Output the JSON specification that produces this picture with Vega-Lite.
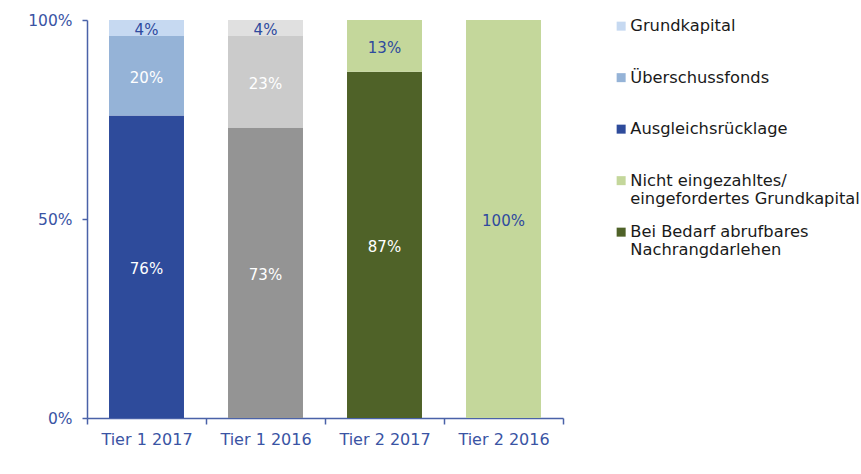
{
  "$schema": "https://vega.github.io/schema/vega-lite/v6.json",
  "width": 476,
  "height": 398,
  "autosize": {"type": "none"},
  "padding": {"left": 87, "top": 20, "right": 298, "bottom": 56},
  "background": "white",
  "config": {"view": {"stroke": null}, "font": "DejaVu Sans"},
  "data": {
    "values": [
      {"tier": "Tier 1 2017", "segment": "Ausgleichsrücklage", "rank": 1, "value": 0.76},
      {"tier": "Tier 1 2017", "segment": "Überschussfonds", "rank": 2, "value": 0.20},
      {"tier": "Tier 1 2017", "segment": "Grundkapital", "rank": 3, "value": 0.04},
      {"tier": "Tier 1 2016", "segment": "Ausgleichsrücklage 2016", "rank": 1, "value": 0.73},
      {"tier": "Tier 1 2016", "segment": "Überschussfonds 2016", "rank": 2, "value": 0.23},
      {"tier": "Tier 1 2016", "segment": "Grundkapital 2016", "rank": 3, "value": 0.04},
      {"tier": "Tier 2 2017", "segment": "Bei Bedarf abrufbares Nachrangdarlehen", "rank": 1, "value": 0.87},
      {"tier": "Tier 2 2017", "segment": "Nicht eingezahltes/ eingefordertes Grundkapital", "rank": 2, "value": 0.13},
      {"tier": "Tier 2 2016", "segment": "Nicht eingezahltes/ eingefordertes Grundkapital", "rank": 1, "value": 1.0}
    ]
  },
  "encoding": {
    "x": {
      "field": "tier",
      "type": "nominal",
      "sort": null,
      "scale": {"paddingInner": 0, "paddingOuter": 0},
      "axis": {
        "title": null,
        "tickBand": "extent",
        "labelAngle": 0,
        "domainColor": "#4a62a8",
        "domainWidth": 1.5,
        "tickColor": "#4a62a8",
        "tickWidth": 1.5,
        "tickSize": 6,
        "labelColor": "#3a54a4",
        "labelFontSize": 16,
        "labelPadding": 7
      }
    }
  },
  "layer": [
    {
      "mark": {"type": "bar", "width": {"band": 0.63}},
      "encoding": {
        "y": {
          "field": "value",
          "type": "quantitative",
          "stack": "zero",
          "scale": {"domain": [0, 1], "nice": false},
          "axis": {
            "title": null,
            "values": [0, 0.5, 1],
            "format": ".0%",
            "grid": false,
            "domainColor": "#4a62a8",
            "domainWidth": 1.5,
            "tickColor": "#4a62a8",
            "tickWidth": 1.5,
            "tickSize": 5,
            "labelColor": "#3a54a4",
            "labelFontSize": 15.5,
            "labelPadding": 10
          }
        },
        "color": {
          "field": "segment",
          "type": "nominal",
          "scale": {
            "domain": [
              "Grundkapital",
              "Überschussfonds",
              "Ausgleichsrücklage",
              "Nicht eingezahltes/ eingefordertes Grundkapital",
              "Bei Bedarf abrufbares Nachrangdarlehen",
              "Grundkapital 2016",
              "Überschussfonds 2016",
              "Ausgleichsrücklage 2016"
            ],
            "range": ["#c6d9f1", "#95b3d7", "#2e4b9b", "#c4d79b", "#4f6228", "#e0e0e0", "#cbcbcb", "#949494"]
          },
          "legend": {
            "orient": "none",
            "legendX": 526,
            "legendY": -2,
            "padding": 0,
            "title": null,
            "values": [
              "Grundkapital",
              "Überschussfonds",
              "Ausgleichsrücklage",
              "Nicht eingezahltes/ eingefordertes Grundkapital",
              "Bei Bedarf abrufbares Nachrangdarlehen"
            ],
            "symbolType": "square",
            "symbolSize": 81,
            "symbolStrokeWidth": 0,
            "labelFontSize": 16.3,
            "labelColor": "#1a1a1a",
            "labelLimit": 600,
            "labelOffset": 1,
            "labelBaseline": "middle",
            "rowPadding": 16.5,
            "labelExpr": "datum.label == 'Nicht eingezahltes/ eingefordertes Grundkapital' ? ['Nicht eingezahltes/', 'eingefordertes Grundkapital'] : datum.label == 'Bei Bedarf abrufbares Nachrangdarlehen' ? ['Bei Bedarf abrufbares', 'Nachrangdarlehen'] : [datum.label, '']"
          }
        },
        "order": {"field": "rank", "type": "quantitative"}
      }
    },
    {
      "mark": {"type": "text", "fontSize": 15, "baseline": "middle", "dy": 2},
      "encoding": {
        "y": {"field": "value", "type": "quantitative", "stack": "zero", "bandPosition": 0.5},
        "detail": {"field": "segment"},
        "order": {"field": "rank", "type": "quantitative"},
        "text": {"field": "value", "type": "quantitative", "format": ".0%"},
        "color": {
          "condition": {
            "test": "datum.segment == 'Grundkapital' || datum.segment == 'Grundkapital 2016' || datum.segment == 'Nicht eingezahltes/ eingefordertes Grundkapital'",
            "value": "#2e4a9e"
          },
          "value": "white"
        }
      }
    }
  ]
}
